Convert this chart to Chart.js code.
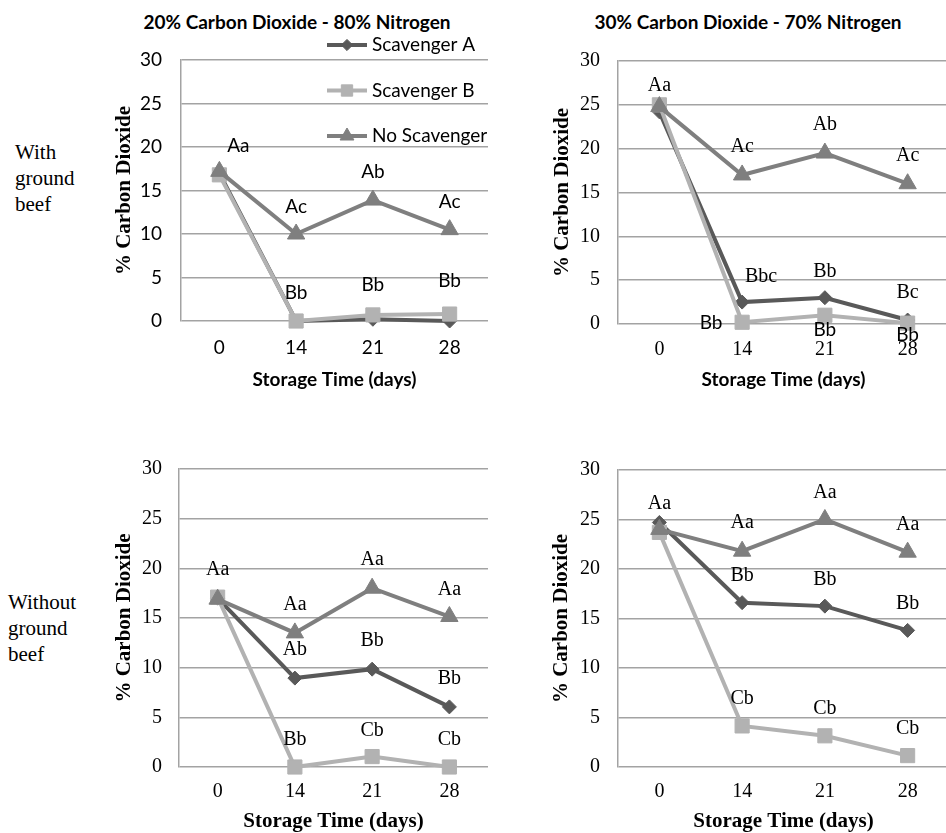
<!DOCTYPE html>
<html>
<head>
<meta charset="utf-8">
<script src="https://cdn.jsdelivr.net/npm/chart.js@4.4.0/dist/chart.umd.js"></script>
<style>
  html, body { margin: 0; padding: 0; background: #fff; }
  body { width: 946px; height: 833px; overflow: hidden; position: relative; }
  canvas { position: absolute; }
  .title { position: absolute; font: bold 19px Lato, "Liberation Sans", sans-serif; color: #000; white-space: nowrap; transform: translate(-50%, -50%); }
  .row { position: absolute; font: 21px "Liberation Serif", "DejaVu Serif", serif; line-height: 26px; color: #000; }
</style>
</head>
<body>
<div class="title" style="left:297px; top:21px;">20% Carbon Dioxide - 80% Nitrogen</div>
<div class="title" style="left:748px; top:21px;">30% Carbon Dioxide - 70% Nitrogen</div>
<div class="row" style="left:15px; top:139px;">With<br>ground<br>beef</div>
<div class="row" style="left:8px; top:589px;">Without<br>ground<br>beef</div>

<canvas id="tl" width="400" height="400" style="left:100px; top:0px;"></canvas>
<canvas id="tr" width="440" height="400" style="left:520px; top:0px;"></canvas>
<canvas id="bl" width="400" height="393" style="left:100px; top:440px;"></canvas>
<canvas id="br" width="440" height="393" style="left:520px; top:440px;"></canvas>

<script>
// storage days on the x axis
const DAYS = ['0', '14', '21', '28'];
const SERIES = ['Scavenger A', 'Scavenger B', 'No Scavenger'];

// with ground beef, 20% CO2 - 80% N2
const withBeef20A = [17.0, 0.0, 0.2, 0.0];
const withBeef20B = [16.8, 0.0, 0.7, 0.8];
const withBeef20None = [17.2, 10.0, 13.9, 10.5];
// with ground beef, 30% CO2 - 70% N2
const withBeef30A = [24.2, 2.5, 3.0, 0.45];
const withBeef30B = [25.0, 0.2, 1.0, 0.1];
const withBeef30None = [24.8, 17.0, 19.5, 16.0];
// without ground beef, 20% CO2
const noBeef20A = [17.0, 8.95, 9.85, 6.05];
const noBeef20B = [17.1, 0.0, 1.05, 0.0];
const noBeef20None = [16.9, 13.5, 18.0, 15.15];
// without ground beef, 30% CO2
const noBeef30A = [24.7, 16.6, 16.25, 13.8];
const noBeef30B = [23.7, 4.15, 3.15, 1.15];
const noBeef30None = [24.0, 21.8, 25.0, 21.7];

// significance letters
const withBeef20NoneTags = ['Aa', 'Ac', 'Ab', 'Ac'];
const withBeef20BTags = ['', 'Bb', 'Bb', 'Bb'];
const withBeef30NoneTags = ['Aa', 'Ac', 'Ab', 'Ac'];
const withBeef30ATags = ['', 'Bbc', 'Bb', 'Bc'];
const withBeef30BTags = ['', 'Bb', 'Bb', 'Bb'];
const noBeef20NoneTags = ['Aa', 'Aa', 'Aa', 'Aa'];
const noBeef20ATags = ['', 'Ab', 'Bb', 'Bb'];
const noBeef20BTags = ['', 'Bb', 'Cb', 'Cb'];
const noBeef30NoneTags = ['Aa', 'Aa', 'Aa', 'Aa'];
const noBeef30ATags = ['', 'Bb', 'Bb', 'Bb'];
const noBeef30BTags = ['', 'Cb', 'Cb', 'Cb'];

const SANS = 'Lato, "Liberation Sans", sans-serif';
const SERIF = '"Liberation Serif", "DejaVu Serif", serif';
const GRID = '#a3a3a3';
const STYLE = [
  { color: '#595959', pointStyle: 'rectRot', radius: 7, order: 3 },
  { color: '#b2b2b2', pointStyle: 'rect', radius: 10, order: 2 },
  { color: '#7f7f7f', pointStyle: 'triangle', radius: 10, order: 1 }
];

const tagPlugin = {
  id: 'tags',
  afterDatasetsDraw(chart, args, opts) {
    const ctx = chart.ctx;
    ctx.save();
    ctx.fillStyle = '#000';
    ctx.textAlign = 'center';
    ctx.textBaseline = 'middle';
    for (const t of opts.items || []) {
      const meta = chart.getDatasetMeta(t.ds);
      ctx.font = t.font;
      t.texts.forEach((txt, i) => {
        if (!txt) return;
        const p = meta.data[i];
        const dx = Array.isArray(t.dx) ? t.dx[i] : (t.dx || 0);
        const dy = Array.isArray(t.dy) ? t.dy[i] : (t.dy == null ? -27 : t.dy);
        ctx.fillText(txt, p.x + dx, p.y + dy);
      });
    }
    ctx.restore();
  }
};

const legendPlugin = {
  id: 'cornerLegend',
  afterDatasetsDraw(chart, args, opts) {
    if (!opts.show) return;
    const ctx = chart.ctx;
    ctx.save();
    ctx.font = '19px ' + SANS;
    ctx.textBaseline = 'middle';
    chart.data.datasets.forEach((d, i) => {
      const y = 45 + i * 45.5;
      ctx.strokeStyle = d.borderColor;
      ctx.lineWidth = 4;
      ctx.beginPath();
      ctx.moveTo(227, y);
      ctx.lineTo(267, y);
      ctx.stroke();
      ctx.fillStyle = d.borderColor;
      ctx.lineWidth = 1;
      Chart.helpers.drawPoint(ctx, { pointStyle: d.pointStyle, radius: d.pointRadius * 0.8, rotation: 0, borderWidth: 1 }, 247, y);
      ctx.fillStyle = '#000';
      ctx.fillText(d.label, 272, y);
    });
    ctx.restore();
  }
};

function makePanel(id, p) {
  const values = [p.a, p.b, p.none];
  const datasets = values.map((v, i) => ({
    label: SERIES[i],
    data: v,
    borderColor: STYLE[i].color,
    backgroundColor: STYLE[i].color,
    pointBackgroundColor: STYLE[i].color,
    pointBorderColor: STYLE[i].color,
    borderWidth: 4,
    pointStyle: STYLE[i].pointStyle,
    pointRadius: STYLE[i].radius,
    pointBorderWidth: 1,
    order: STYLE[i].order,
    tension: 0,
    clip: false
  }));
  const tickFont = p.sansTicks ? { family: SANS, size: 19, lineHeight: 1.2 } : { family: SERIF, size: 20, lineHeight: 1.2 };
  const xTitleFont = p.sansTicks || p.sansXTitle ? { family: SANS, size: 19, weight: 'bold', lineHeight: 1.2 } : { family: SERIF, size: 21, weight: 'bold', lineHeight: 1.05 };
  return new Chart(document.getElementById(id), {
    type: 'line',
    data: { labels: DAYS, datasets },
    plugins: [tagPlugin, legendPlugin],
    options: {
      responsive: false,
      animation: false,
      events: [],
      layout: { padding: { top: p.padTop, right: p.padRight, left: 0, bottom: 0 } },
      plugins: {
        legend: { display: false },
        tooltip: { enabled: false },
        tags: { items: p.tags },
        cornerLegend: { show: !!p.legend }
      },
      scales: {
        x: {
          offset: true,
          grid: { display: false, drawTicks: false },
          border: { display: false },
          ticks: { font: tickFont, color: '#000', padding: p.xTickPad },
          title: { display: true, text: 'Storage Time (days)', color: '#000', font: xTitleFont, padding: { top: 0, bottom: p.xTitlePad } },
          afterFit: (s) => { s.height = p.xH; }
        },
        y: {
          min: 0,
          max: 30,
          grid: { color: GRID, lineWidth: 1.5, drawTicks: false },
          border: { display: true, color: GRID, width: 1.5 },
          ticks: { stepSize: 5, font: tickFont, color: '#000', padding: p.yTickPad },
          title: { display: true, text: '% Carbon Dioxide', color: '#000', font: { family: SERIF, size: 21, weight: 'bold', lineHeight: 1.2 }, padding: { top: p.yTitlePad, bottom: 0 } },
          afterFit: (s) => { s.width = p.yW; }
        }
      }
    }
  });
}

const sansTag = '19px ' + SANS;
const serifTag = '20px ' + SERIF;

makePanel('tl', {
  a: withBeef20A, b: withBeef20B, none: withBeef20None,
  sansTicks: true, legend: true,
  padTop: 60, padRight: 12, yW: 81, xH: 79,
  xTickPad: 15, xTitlePad: 9, yTickPad: 19, yTitlePad: 12,
  tags: [
    { ds: 2, texts: withBeef20NoneTags, dx: [19, 0, 0, 0], dy: [-25, -27, -28, -28], font: sansTag },
    { ds: 1, texts: withBeef20BTags, dy: [0, -28, -30, -33], font: sansTag }
  ]
});

makePanel('tr', {
  a: withBeef30A, b: withBeef30B, none: withBeef30None,
  sansXTitle: true,
  padTop: 61, padRight: 8, yW: 98, xH: 76,
  xTickPad: 14, xTitlePad: 9, yTickPad: 18, yTitlePad: 30,
  tags: [
    { ds: 2, texts: withBeef30NoneTags, dy: [-21, -28, -28, -28], font: serifTag },
    { ds: 0, texts: withBeef30ATags, dx: [0, 19, 0, 0], dy: [0, -25, -26, -27], font: serifTag },
    { ds: 1, texts: withBeef30BTags, dx: [0, -31, 0, 0], dy: [0, 1, 15, 12], font: sansTag }
  ]
});

makePanel('bl', {
  a: noBeef20A, b: noBeef20B, none: noBeef20None,
  padTop: 25, padRight: 12, yW: 79, xH: 66,
  xTickPad: 13, xTitlePad: 0, yTickPad: 17, yTitlePad: 12,
  tags: [
    { ds: 2, texts: noBeef20NoneTags, dy: [-29, -28, -28, -27], font: serifTag },
    { ds: 0, texts: noBeef20ATags, dy: -28, font: serifTag },
    { ds: 1, texts: noBeef20BTags, dy: [0, -27, -26, -27], font: serifTag }
  ]
});

makePanel('br', {
  a: noBeef30A, b: noBeef30B, none: noBeef30None,
  padTop: 25, padRight: 8, yW: 98, xH: 66,
  xTickPad: 13, xTitlePad: 0, yTickPad: 18, yTitlePad: 29,
  tags: [
    { ds: 2, texts: noBeef30NoneTags, dy: [-26, -28, -27, -27], font: serifTag },
    { ds: 0, texts: noBeef30ATags, dy: [0, -27, -26, -27], font: serifTag },
    { ds: 1, texts: noBeef30BTags, dy: -27, font: serifTag }
  ]
});
</script>
</body>
</html>
